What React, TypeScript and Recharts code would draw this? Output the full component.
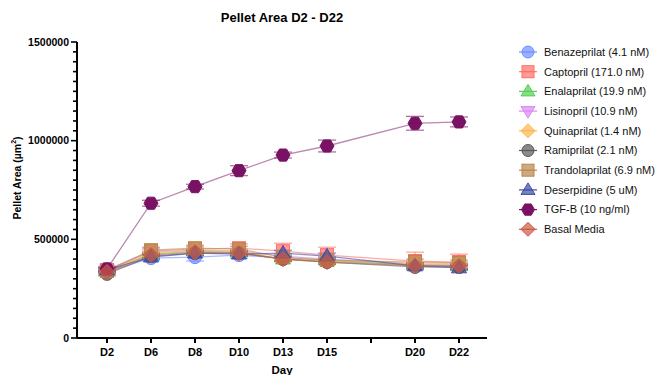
import React from 'react';
import { LineChart, Line, XAxis, YAxis, ErrorBar, Label } from 'recharts';

const FONT = '"Liberation Sans", Arial, Helvetica, sans-serif';

// x slots: D17 has a tick but no data/label
const days = ['D2', 'D6', 'D8', 'D10', 'D13', 'D15', 'D20', 'D22'];
const dayPos = [1, 2, 3, 4, 5, 6, 8, 9];
const xTicks = [1, 2, 3, 4, 5, 6, 7, 8, 9];
const xTickLabels = ['D2', 'D6', 'D8', 'D10', 'D13', 'D15', '', 'D20', 'D22'];
const yTicks = [
  0, 50000, 100000, 150000, 200000, 250000, 300000, 350000, 400000, 450000,
  500000, 550000, 600000, 650000, 700000, 750000, 800000, 850000, 900000, 950000,
  1000000, 1050000, 1100000, 1150000, 1200000, 1250000, 1300000, 1350000, 1400000, 1450000,
  1500000,
];

const benazeprilat = [335000, 405000, 410000, 420000, 405000, 395000, 370000, 360000];
const benazeprilatErr = [10000, 12000, 20000, 15000, 12000, 12000, 12000, 10000];
const captopril = [345000, 440000, 450000, 455000, 440000, 420000, 390000, 385000];
const captoprilErr = [12000, 15000, 15000, 22000, 40000, 40000, 45000, 40000];
const enalaprilat = [340000, 425000, 440000, 435000, 400000, 390000, 370000, 365000];
const enalaprilatErr = [10000, 12000, 12000, 12000, 12000, 12000, 12000, 12000];
const lisinopril = [345000, 435000, 445000, 440000, 415000, 400000, 375000, 370000];
const lisinoprilErr = [10000, 12000, 12000, 12000, 12000, 12000, 12000, 12000];
const quinaprilat = [335000, 430000, 445000, 440000, 400000, 395000, 375000, 375000];
const quinaprilatErr = [10000, 12000, 12000, 12000, 12000, 12000, 12000, 12000];
const ramiprilat = [325000, 415000, 430000, 430000, 400000, 385000, 360000, 360000];
const ramiprilatErr = [10000, 12000, 12000, 12000, 12000, 12000, 12000, 12000];
const trandolaprilat = [340000, 445000, 455000, 450000, 410000, 395000, 385000, 380000];
const trandolaprilatErr = [10000, 15000, 15000, 15000, 15000, 15000, 15000, 15000];
const deserpidine = [345000, 410000, 430000, 425000, 430000, 415000, 365000, 355000];
const deserpidineErr = [10000, 12000, 12000, 12000, 15000, 15000, 12000, 12000];
const tgfb = [350000, 683000, 767000, 848000, 927000, 973000, 1088000, 1095000];
const tgfbErr = [10000, 15000, 12000, 25000, 15000, 30000, 35000, 25000];
const basalMedia = [335000, 420000, 435000, 430000, 400000, 385000, 365000, 365000];
const basalMediaErr = [10000, 12000, 12000, 12000, 12000, 12000, 12000, 12000];

type Shape = 'circle' | 'square' | 'triangle' | 'triangleDown' | 'diamond' | 'hexagon';

const series: { key: string; name: string; color: string; shape: Shape; values: number[]; errors: number[] }[] = [
  { key: 'bena', name: 'Benazeprilat (4.1 nM)', color: '#6f8dff', shape: 'circle', values: benazeprilat, errors: benazeprilatErr },
  { key: 'capto', name: 'Captopril (171.0 nM)', color: '#ff6f66', shape: 'square', values: captopril, errors: captoprilErr },
  { key: 'enala', name: 'Enalaprilat (19.9 nM)', color: '#52cf52', shape: 'triangle', values: enalaprilat, errors: enalaprilatErr },
  { key: 'lisi', name: 'Lisinopril (10.9 nM)', color: '#d887f2', shape: 'triangleDown', values: lisinopril, errors: lisinoprilErr },
  { key: 'quina', name: 'Quinaprilat (1.4 nM)', color: '#ffb84d', shape: 'diamond', values: quinaprilat, errors: quinaprilatErr },
  { key: 'rami', name: 'Ramiprilat (2.1 nM)', color: '#585858', shape: 'circle', values: ramiprilat, errors: ramiprilatErr },
  { key: 'trando', name: 'Trandolaprilat (6.9 nM)', color: '#b8884a', shape: 'square', values: trandolaprilat, errors: trandolaprilatErr },
  { key: 'deser', name: 'Deserpidine (5 uM)', color: '#3a4aa8', shape: 'triangle', values: deserpidine, errors: deserpidineErr },
  { key: 'tgf', name: 'TGF-B (10 ng/ml)', color: '#7a1264', shape: 'hexagon', values: tgfb, errors: tgfbErr },
  { key: 'basal', name: 'Basal Media', color: '#cc5a45', shape: 'diamond', values: basalMedia, errors: basalMediaErr },
];

const rows = days.map((d, i) => {
  const row: Record<string, number | string> = { day: d, x: dayPos[i] };
  series.forEach((s) => {
    row[s.key] = s.values[i];
    row[s.key + 'Err'] = s.errors[i];
  });
  return row;
});

const Marker = ({ shape, cx, cy, color, r = 6.5 }: { shape: Shape; cx: number; cy: number; color: string; r?: number }) => {
  const common = { fill: color, fillOpacity: shape === 'hexagon' ? 1 : 0.7, stroke: color, strokeWidth: 1 };
  switch (shape) {
    case 'circle':
      return <circle cx={cx} cy={cy} r={r} {...common} />;
    case 'square':
      return <rect x={cx - r} y={cy - r} width={r * 2} height={r * 2} {...common} />;
    case 'triangle':
      return <polygon points={`${cx},${cy - r - 1} ${cx + r + 1},${cy + r * 0.75} ${cx - r - 1},${cy + r * 0.75}`} {...common} />;
    case 'triangleDown':
      return <polygon points={`${cx},${cy + r + 1} ${cx + r + 1},${cy - r * 0.75} ${cx - r - 1},${cy - r * 0.75}`} {...common} />;
    case 'diamond':
      return <polygon points={`${cx},${cy - r - 1} ${cx + r + 1},${cy} ${cx},${cy + r + 1} ${cx - r - 1},${cy}`} {...common} />;
    case 'hexagon': {
      const pts = [0, 60, 120, 180, 240, 300]
        .map((a) => `${cx + (r + 0.5) * Math.cos((a * Math.PI) / 180)},${cy + (r + 0.5) * Math.sin((a * Math.PI) / 180)}`)
        .join(' ');
      return <polygon points={pts} {...common} />;
    }
  }
  return null;
};

const YTick = (props: any) => {
  const { x, y, payload } = props;
  const major = payload.value % 500000 === 0;
  return (
    <g>
      <line x1={x} x2={x - (major ? 6 : 4)} y1={y} y2={y} stroke="#000" strokeWidth={1.6} />
      {major && (
        <text x={x - 8} y={y} dy="0.35em" textAnchor="end" fontFamily={FONT} fontWeight="bold" fontSize={10.5} fill="#000">
          {payload.value}
        </text>
      )}
    </g>
  );
};

const YLabel = () => (
  <text
    x={17}
    y={178}
    transform="rotate(-90 17 178)"
    textAnchor="middle"
    dominantBaseline="central"
    fontFamily={FONT}
    fontWeight="bold"
    fontSize={10.5}
    fill="#000"
  >
    Pellet Area (µm<tspan dy={-4} fontSize={7}>2</tspan>
    <tspan dy={4}>)</tspan>
  </text>
);

const LegendBox = () => (
  <svg width={160} height={200} style={{ position: 'absolute', left: 497, top: 40 }}>
    {series.map((s, i) => {
      const cy = 12 + i * 19.7;
      return (
        <g key={s.key}>
          <line x1={22} x2={40} y1={cy} y2={cy} stroke={s.color} strokeWidth={1.2} />
          <Marker shape={s.shape} cx={31} cy={cy} color={s.color} r={6} />
          <text x={47} y={cy} dy="0.35em" fontFamily={FONT} fontSize={11} fill="#111">
            {s.name}
          </text>
        </g>
      );
    })}
  </svg>
);

export default function App() {
  return (
    <div style={{ position: 'absolute', left: 0, top: 0, width: 657, height: 375, background: '#fff', fontFamily: FONT }}>
      <div
        style={{
          position: 'absolute',
          left: 77,
          width: 410,
          top: 10,
          textAlign: 'center',
          fontWeight: 'bold',
          fontSize: 13,
          color: '#000',
          lineHeight: '16px',
        }}
      >
        Pellet Area D2 - D22
      </div>
      <LineChart width={657} height={375} data={rows} margin={{ top: 42, right: 170, bottom: 0, left: 0 }}>
        <XAxis
          type="number"
          dataKey="x"
          domain={[0.318, 9.636]}
          ticks={xTicks}
          interval={0}
          tickFormatter={(v: number) => xTickLabels[v - 1]}
          axisLine={{ stroke: '#000', strokeWidth: 2 }}
          tickLine={{ stroke: '#000', strokeWidth: 2 }}
          tickSize={5}
          tickMargin={5}
          height={37}
          tick={{ fill: '#000', fontSize: 11, fontWeight: 'bold', fontFamily: FONT }}
        >
          <Label value="Day" position="insideBottom" offset={1} style={{ fill: '#000', fontSize: 11.5, fontWeight: 'bold', fontFamily: FONT }} />
        </XAxis>
        <YAxis
          type="number"
          domain={[0, 1500000]}
          ticks={yTicks}
          interval={0}
          width={77}
          axisLine={{ stroke: '#000', strokeWidth: 2 }}
          tickLine={false}
          tickSize={0}
          tickMargin={0}
          tick={<YTick />}
        >
          <Label content={<YLabel />} />
        </YAxis>
        {series.map((s) => (
          <Line
            key={s.key}
            dataKey={s.key}
            stroke={s.color}
            strokeOpacity={s.shape === 'hexagon' ? 0.5 : 0.6}
            strokeWidth={1.3}
            isAnimationActive={false}
            dot={(p: any) => <Marker key={`${s.key}-${p.index}`} shape={s.shape} cx={p.cx} cy={p.cy} color={s.color} />}
            activeDot={false}
          >
            <ErrorBar dataKey={s.key + 'Err'} width={9} stroke={s.color} strokeOpacity={0.6} strokeWidth={1.3} isAnimationActive={false} />
          </Line>
        ))}
      </LineChart>
      <LegendBox />
    </div>
  );
}
